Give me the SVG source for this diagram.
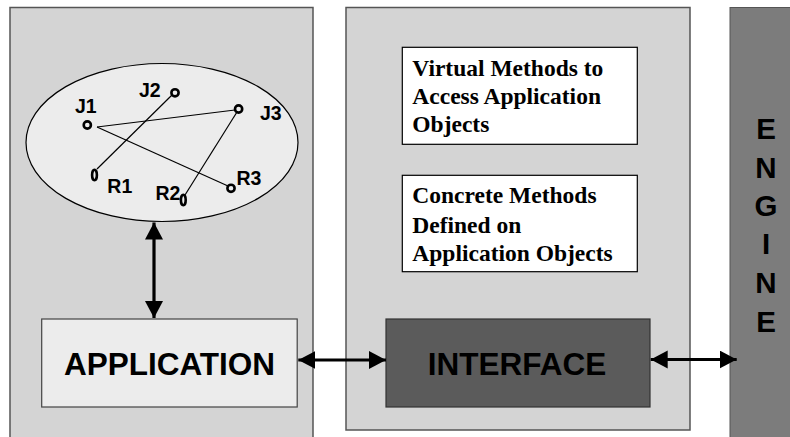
<svg xmlns="http://www.w3.org/2000/svg" width="790" height="437" viewBox="0 0 790 437">
  <style>
    .panel { fill: #d4d4d4; stroke: #555555; stroke-width: 1.5; }
    .engine { fill: #7c7c7c; stroke: #555555; stroke-width: 1; }
    .box { fill: #ffffff; stroke: #000000; stroke-width: 1.2; }
    .app { fill: #ececec; stroke: #444444; stroke-width: 1.2; }
    .iface { fill: #5b5b5b; stroke: #333333; stroke-width: 1.2; }
    .big { font-family: "Liberation Sans", Arial, sans-serif; font-weight: bold; font-size: 31.5px; fill: #000; text-anchor: middle; }
    .lbl { font-family: "Liberation Sans", Arial, sans-serif; font-weight: bold; font-size: 19.5px; fill: #000; }
    .eng { font-family: "Liberation Sans", Arial, sans-serif; font-weight: bold; font-size: 29.5px; fill: #000; text-anchor: middle; }
    .serif { font-family: "Liberation Serif", "Times New Roman", serif; font-weight: bold; font-size: 23.5px; fill: #000; }
    .edge { stroke: #000; stroke-width: 1.2; fill: none; }
    .pt { fill: #ececec; stroke: #000; stroke-width: 2.6; }
    .arrow { stroke: #000; stroke-width: 3.2; fill: none; marker-start: url(#head); marker-end: url(#head); }
  </style>
  <defs>
    <marker id="head" markerUnits="userSpaceOnUse" markerWidth="18" markerHeight="19" refX="17" refY="9" orient="auto-start-reverse">
      <path d="M0,0 L17,9 L0,18 z" fill="#000"/>
    </marker>
  </defs>

  <!-- application panel with object graph -->
  <g id="application-panel">
    <rect class="panel" x="10" y="7.5" width="303" height="440"/>
    <ellipse cx="162" cy="142.5" rx="136" ry="79" fill="#ececec" stroke="#000" stroke-width="1.2"/>
  </g>

  <g id="graph-edges">
    <line class="edge" x1="97" y1="127" x2="235" y2="110"/>
    <line class="edge" x1="97" y1="127" x2="228" y2="186"/>
    <line class="edge" x1="172" y1="95" x2="97" y2="169"/>
    <line class="edge" x1="237" y1="112" x2="185" y2="195"/>
  </g>

  <g id="node-J1"><circle class="pt" cx="87.3" cy="125" r="3.6"/><text class="lbl" x="75" y="113.3">J1</text></g>
  <g id="node-J2"><circle class="pt" cx="175" cy="92.8" r="3.6"/><text class="lbl" x="139" y="96.5">J2</text></g>
  <g id="node-J3"><circle class="pt" cx="238.6" cy="109" r="3.6"/><text class="lbl" x="260" y="119.5">J3</text></g>
  <g id="node-R1"><ellipse class="pt" cx="94.5" cy="175" rx="2.4" ry="5.2" stroke-width="3"/><text class="lbl" x="107.3" y="192.7">R1</text></g>
  <g id="node-R2"><ellipse class="pt" cx="183.3" cy="200" rx="2.4" ry="5.2" stroke-width="3"/><text class="lbl" x="155.5" y="200.3">R2</text></g>
  <g id="node-R3"><circle class="pt" cx="231" cy="188.3" r="3.6"/><text class="lbl" x="236.5" y="184.5">R3</text></g>

  <g id="application">
    <rect class="app" x="41.7" y="319" width="255.5" height="88"/>
    <text class="big" x="169.5" y="374.5">APPLICATION</text>
  </g>

  <!-- interface panel -->
  <g id="interface-panel">
    <rect class="panel" x="346" y="7.5" width="344" height="422.5"/>
  </g>

  <g id="virtual-methods">
    <rect class="box" x="402.3" y="47.3" width="235" height="97"/>
    <text class="serif" x="412.3" y="76">Virtual Methods to</text>
    <text class="serif" x="412.3" y="104">Access Application</text>
    <text class="serif" x="412.3" y="131.8">Objects</text>
  </g>

  <g id="concrete-methods">
    <rect class="box" x="402.3" y="175.3" width="235" height="96.4"/>
    <text class="serif" x="412.3" y="203.3">Concrete Methods</text>
    <text class="serif" x="412.3" y="232.5">Defined on</text>
    <text class="serif" x="412.3" y="261">Application Objects</text>
  </g>

  <g id="interface">
    <rect class="iface" x="386" y="319" width="264" height="88"/>
    <text class="big" x="517" y="374.5">INTERFACE</text>
  </g>

  <!-- engine column -->
  <g id="engine">
    <rect class="engine" x="730" y="7.5" width="70" height="440"/>
    <text class="eng" x="766" y="139.3">E</text>
    <text class="eng" x="766" y="177.7">N</text>
    <text class="eng" x="766" y="215.5">G</text>
    <text class="eng" x="766" y="254">I</text>
    <text class="eng" x="766" y="292.7">N</text>
    <text class="eng" x="766" y="331.7">E</text>
  </g>

  <g id="connectors">
    <line class="arrow" x1="154" y1="222.5" x2="154" y2="318"/>
    <line class="arrow" x1="298.3" y1="360" x2="386" y2="360"/>
    <line class="arrow" x1="650.7" y1="359.5" x2="736.7" y2="359.5"/>
  </g>
</svg>
